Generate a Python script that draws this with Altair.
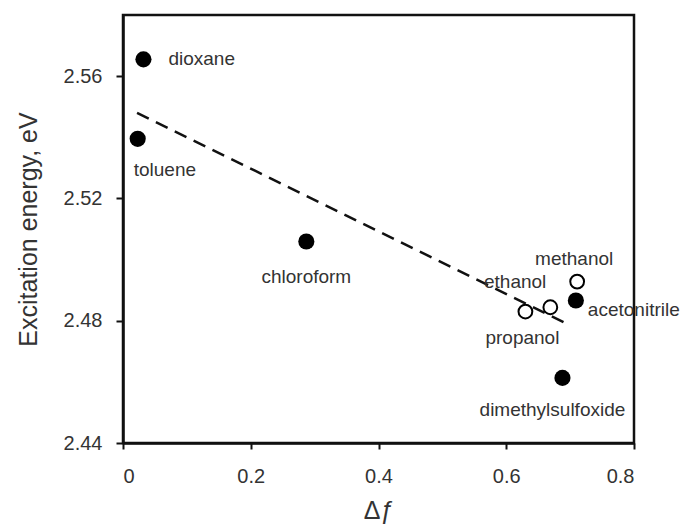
import altair as alt
import pandas as pd

solvents = ["dioxane", "toluene", "chloroform", "methanol", "ethanol", "propanol",
            "acetonitrile", "dimethylsulfoxide"]
delta_f = [0.032, 0.023, 0.287, 0.711, 0.669, 0.630, 0.709, 0.688]
energy = [2.5655, 2.5395, 2.5059, 2.4928, 2.4844, 2.4830, 2.4866, 2.4613]
kind = ["aprotic", "aprotic", "aprotic", "protic", "protic", "protic", "aprotic", "aprotic"]
label_dx = [25, -4, 0, -3, -4, -3, 12, -10]
label_dy = [0, 31, 35, -23, -25, 26, 9, 32]
label_align = ["left", "left", "center", "center", "right", "center", "left", "center"]

fit_x = [0.022, 0.699]
fit_y = [2.548, 2.4786]

df = pd.DataFrame({"solvent": solvents, "df": delta_f, "E": energy, "kind": kind})
fit = pd.DataFrame({"df": fit_x, "E": fit_y})

FONT = "Liberation Sans"
xs = alt.Scale(domain=[0, 0.8], nice=False)
ys = alt.Scale(domain=[2.44, 2.58], nice=False)

xax = alt.Axis(values=[0, 0.2, 0.4, 0.6, 0.8], format="~g", grid=False, tickSize=6,
               tickWidth=2, domainWidth=2.5, domainColor="#111", tickColor="#111",
               labelFont=FONT, labelFontSize=20, labelColor="#333", labelPadding=17,
               title="Δƒ", titleFont=FONT, titleFontSize=25,
               titleFontWeight="normal", titleColor="#333", titlePadding=12)
yax = alt.Axis(values=[2.44, 2.48, 2.52, 2.56], format=".2f", grid=False, tickSize=7,
               tickWidth=2, domainWidth=2.5, domainColor="#111", tickColor="#111",
               labelFont=FONT, labelFontSize=20, labelColor="#333", labelPadding=14,
               title="Excitation energy, eV", titleFont=FONT, titleFontSize=25,
               titleFontWeight="normal", titleColor="#333", titlePadding=22)

line = alt.Chart(fit).mark_line(color="#111", strokeWidth=2.5, strokeDash=[13, 8]).encode(
    x=alt.X("df:Q", scale=xs, axis=xax),
    y=alt.Y("E:Q", scale=ys, axis=yax),
)

filled = alt.Chart(df).transform_filter(alt.datum.kind == "aprotic").mark_circle(
    size=260, color="#000", opacity=1).encode(
    x=alt.X("df:Q", scale=xs), y=alt.Y("E:Q", scale=ys))

opened = alt.Chart(df).transform_filter(alt.datum.kind == "protic").mark_point(
    shape="circle", size=190, filled=True, fill="white", stroke="#000", strokeWidth=2,
    opacity=1).encode(
    x=alt.X("df:Q", scale=xs), y=alt.Y("E:Q", scale=ys))

labels = []
for i, name in enumerate(solvents):
    labels.append(
        alt.Chart(df).transform_filter(alt.datum.solvent == name).mark_text(
            font=FONT, fontSize=19, color="#333", align=label_align[i],
            baseline="middle", dx=label_dx[i], dy=label_dy[i]).encode(
            x=alt.X("df:Q", scale=xs), y=alt.Y("E:Q", scale=ys), text="solvent:N")
    )

chart = alt.layer(line, filled, opened, *labels).properties(
    width=511, height=428,
    autosize=alt.AutoSizeParams(type="none"),
    padding={"left": 115, "top": 7, "right": 46, "bottom": 81},
).configure_view(stroke="#111", strokeWidth=2.5)

chart.save("out.html", embed_options={"renderer": "svg", "actions": False})
